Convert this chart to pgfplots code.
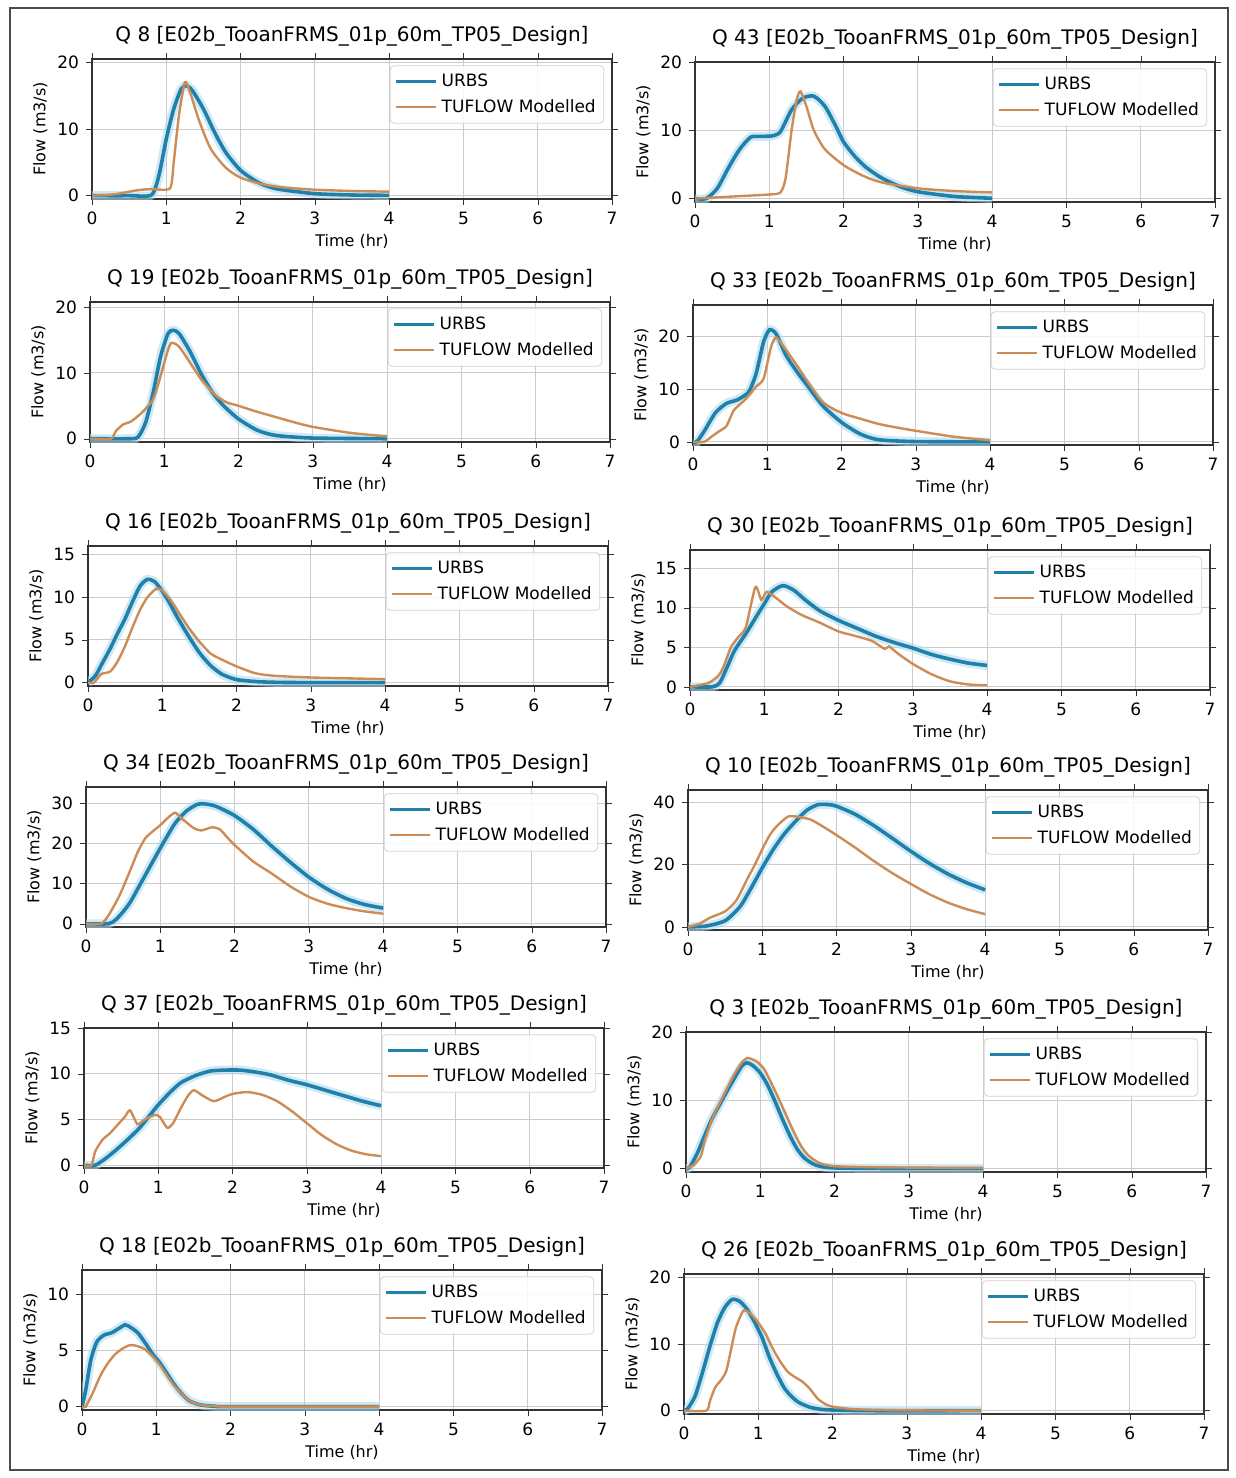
\documentclass[border=0pt]{standalone}
\usepackage{fontspec}
\setmainfont{DejaVu Sans}
\usepackage{pgfplots}
\usepackage{pgfplotstable}
\pgfplotsset{compat=1.18}

\definecolor{urbs}{RGB}{33,128,170}
\definecolor{tuflow}{RGB}{205,140,85}
\definecolor{halo}{RGB}{175,220,240}

\newcommand\ttl[1]{Q #1 [E02b\_TooanFRMS\_01p\_60m\_TP05\_Design]}

\pgfplotsset{
  panel/.style={
    scale only axis, width=260pt, height=70pt, anchor=south west,
    xmin=0, xmax=7, xtick={0,...,7},
    grid=major, major grid style={gray!40, line width=0.5pt},
    axis line style={black!80, line width=0.8pt},
    tick style={black!80}, tick align=outside, major tick length=3pt,
    xlabel={Time (hr)}, ylabel={Flow (m3/s)},
    title style={font=\fontsize{10}{12}\selectfont, yshift=-3pt},
    ticklabel style={font=\fontsize{8.5}{10}\selectfont},
    label style={font=\fontsize{8}{10}\selectfont},
    xlabel style={yshift=2pt}, ylabel style={yshift=-2pt},
    /pgf/number format/assume math mode=true,
    legend cell align=left,
    legend image code/.code={\draw[##1] (0pt,0pt) -- (20pt,0pt);},
    legend style={at={(0.985,0.955)}, anchor=north east, draw=gray!35,
      fill=white, fill opacity=0.85, text opacity=1, rounded corners=2pt,
      font=\fontsize{8.5}{10}\selectfont, inner sep=2pt, row sep=1pt},
  },
  hal/.style={color=halo, line width=4.5pt, opacity=0.6, forget plot, smooth, tension=0.4},
  ur/.style={color=urbs, line width=1.8pt, smooth, tension=0.4},
  tf/.style={color=tuflow, line width=1.2pt, smooth, tension=0.4},
}

% URBS / TUFLOW hydrographs, time (hr) and flow (m3/s)
\pgfplotstableread{
t q
0 0
0.5 0
0.8 0.1
0.9 3
1.0 8.5
1.1 13
1.2 16
1.27 16.5
1.35 15.8
1.5 13
1.65 9.5
1.8 6.5
2.0 3.8
2.25 1.9
2.5 1.0
3.0 0.3
3.5 0.1
4.0 0.05
}\uA
\pgfplotstableread{
t q
0 0
0.3 0.2
0.6 0.8
0.8 1
1.05 1.1
1.1 5
1.17 12
1.25 17
1.32 15.5
1.45 11
1.6 7
1.8 4.2
2.0 2.7
2.3 1.7
2.6 1.2
3.0 0.9
3.5 0.7
4.0 0.6
}\tA
\pgfplotstableread{
t q
0 0
0.15 0
0.3 1.5
0.45 4.5
0.6 7.2
0.75 9
0.9 9.1
1.05 9.2
1.15 9.8
1.3 13
1.45 14.7
1.6 15
1.75 13.5
1.9 10.5
2.0 8.3
2.15 6.2
2.3 4.6
2.5 3.1
2.75 1.8
3.0 1.0
3.5 0.3
4.0 0.05
}\uB
\pgfplotstableread{
t q
0 0
0.5 0.3
1.0 0.6
1.15 0.9
1.22 3
1.3 10
1.37 14.5
1.42 15.7
1.5 13.5
1.6 10
1.75 7.2
2.0 4.9
2.25 3.4
2.5 2.4
3.0 1.5
3.5 1.1
4.0 0.9
}\tB
\pgfplotstableread{
t q
0 0
0.55 0
0.65 0.3
0.75 2.5
0.85 7
0.95 12.5
1.05 16
1.12 16.5
1.2 16
1.35 13.2
1.5 9.8
1.65 7
1.8 5
2.0 3
2.25 1.3
2.5 0.5
3.0 0.1
4.0 0
}\uC
\pgfplotstableread{
t q
0 0
0.28 0
0.35 1.2
0.45 2.2
0.55 2.6
0.7 4
0.85 6
0.95 9.5
1.05 13.5
1.1 14.6
1.2 14
1.35 11.5
1.5 9
1.7 6.5
1.85 5.5
2.0 5
2.25 4.1
2.5 3.3
2.75 2.5
3.0 1.8
3.5 0.9
4.0 0.35
}\tC
\pgfplotstableread{
t q
0 0
0.05 0
0.15 2
0.3 5.5
0.45 7.3
0.6 8
0.75 9.5
0.85 13
0.95 19
1.03 21.3
1.12 20.5
1.25 16.5
1.4 13.3
1.55 10.5
1.75 6.8
2.0 3.7
2.25 1.5
2.5 0.4
3.0 0.05
4.0 0
}\uD
\pgfplotstableread{
t q
0 0
0.15 0
0.25 1
0.35 2
0.45 3
0.55 6
0.7 8
0.85 10.5
0.95 12
1.05 18
1.12 19.8
1.25 17.5
1.4 14.5
1.55 11.3
1.75 7.5
2.0 5.5
2.25 4.4
2.5 3.4
2.75 2.7
3.0 2.1
3.5 1.0
4.0 0.3
}\tD
\pgfplotstableread{
t q
0 0
0.1 0.8
0.2 2.4
0.3 4
0.4 5.8
0.5 7.5
0.6 9.5
0.7 11.3
0.8 12.1
0.9 11.8
1.0 10.7
1.1 9.3
1.2 7.7
1.35 5.5
1.5 3.5
1.65 2
1.8 1
2.0 0.35
2.3 0.1
2.6 0.02
3.0 0
4.0 0
}\uE
\pgfplotstableread{
t q
0 0
0.08 0
0.18 1
0.3 1.3
0.4 2.5
0.5 4.3
0.6 6.5
0.7 8.5
0.8 10
0.92 11
1.0 10.8
1.1 9.8
1.2 8.5
1.35 6.5
1.5 4.8
1.65 3.4
1.8 2.7
2.0 1.9
2.25 1.1
2.5 0.8
3.0 0.6
3.5 0.5
4.0 0.4
}\tE
\pgfplotstableread{
t q
0 0
0.3 0
0.4 0.5
0.5 2.5
0.6 4.6
0.75 6.7
0.9 9
1.0 10.5
1.1 12
1.25 12.8
1.4 12.2
1.55 11
1.75 9.6
2.0 8.4
2.25 7.4
2.5 6.4
2.75 5.6
3.0 4.9
3.25 4.1
3.5 3.5
3.75 3.0
4.0 2.7
}\uF
\pgfplotstableread{
t q
0 0
0.25 0.5
0.38 1.4
0.45 2.5
0.55 5
0.65 6.3
0.75 7.5
0.88 12.6
0.96 11
1.03 12
1.15 11.3
1.3 10.2
1.5 9.1
1.75 8.1
2.0 7.0
2.2 6.5
2.45 5.8
2.62 4.8
2.68 5.1
2.8 4.2
3.0 2.9
3.25 1.6
3.5 0.7
3.75 0.3
4.0 0.2
}\tF
\pgfplotstableread{
t q
0 0
0.3 0
0.4 1
0.5 3
0.6 5.5
0.75 10.5
0.9 15.5
1.0 18.8
1.1 22
1.2 25
1.35 28
1.5 29.7
1.6 29.8
1.75 29.2
2.0 26.9
2.25 23.5
2.5 19.3
2.75 15.3
3.0 11.6
3.25 8.6
3.5 6.3
3.75 4.8
4.0 3.9
}\uG
\pgfplotstableread{
t q
0 0
0.2 0
0.3 2
0.45 7
0.6 13.5
0.7 18
0.8 21.3
0.9 23
1.0 24.5
1.1 26.3
1.2 27.6
1.3 26
1.45 23.8
1.55 23.2
1.7 24
1.8 23.5
1.9 21.5
2.0 19.6
2.25 15.5
2.5 12.5
2.75 9.3
3.0 6.7
3.25 5
3.5 3.9
3.75 3.1
4.0 2.5
}\tG
\pgfplotstableread{
t q
0 0
0.25 0.3
0.5 2
0.7 6.5
0.85 12.5
1.0 19
1.15 25
1.3 30
1.45 34
1.6 37.5
1.75 39.3
1.9 39.3
2.0 38.8
2.25 36.2
2.5 32.6
2.75 28.5
3.0 24.3
3.25 20.4
3.5 17
3.75 14.2
4.0 11.9
}\uH
\pgfplotstableread{
t q
0 0
0.15 1
0.3 3
0.5 5
0.65 8.5
0.8 15.5
0.9 20
1.0 25
1.1 29.5
1.2 32.5
1.35 35.5
1.5 35.3
1.65 34.5
1.8 32.5
2.0 29.5
2.25 25.5
2.5 21.2
2.75 17.3
3.0 13.8
3.25 10.5
3.5 7.8
3.75 5.7
4.0 4.1
}\tH
\pgfplotstableread{
t q
0 0
0.15 0
0.3 0.8
0.45 1.8
0.6 2.9
0.75 4.1
0.9 5.6
1.0 6.6
1.15 7.9
1.3 9
1.5 9.8
1.7 10.3
1.9 10.4
2.1 10.4
2.3 10.2
2.5 9.9
2.75 9.3
3.0 8.8
3.25 8.2
3.5 7.6
3.75 7.0
4.0 6.5
}\uI
\pgfplotstableread{
t q
0 0
0.1 0
0.15 1.5
0.25 2.8
0.35 3.5
0.45 4.4
0.55 5.3
0.62 6
0.72 4.5
0.82 5
0.95 5.5
1.02 5.3
1.12 4.1
1.2 4.6
1.3 6.2
1.4 7.6
1.48 8.2
1.6 7.6
1.75 7
1.9 7.5
2.0 7.8
2.2 8.0
2.4 7.7
2.6 7.0
2.8 5.9
3.0 4.6
3.2 3.3
3.4 2.3
3.6 1.6
3.8 1.2
4.0 1.0
}\tI
\pgfplotstableread{
t q
0 0
0.05 0.2
0.15 2.2
0.25 4.8
0.35 7.3
0.45 9.3
0.55 11.3
0.65 13.2
0.75 15
0.82 15.5
0.9 15.1
1.0 14
1.1 12.2
1.2 9.8
1.3 7.2
1.4 4.8
1.5 2.8
1.6 1.5
1.75 0.5
2.0 0.1
3.0 0
4.0 0
}\uJ
\pgfplotstableread{
t q
0 0
0.1 0.5
0.2 1.8
0.25 4
0.35 7.2
0.45 9.5
0.55 11.7
0.65 13.8
0.75 15.5
0.83 16.2
0.95 15.7
1.05 14.6
1.15 12.5
1.25 10.2
1.35 7.8
1.45 5.4
1.55 3.3
1.65 1.9
1.8 0.8
2.0 0.35
2.5 0.2
3.0 0.15
4.0 0.1
}\tJ
\pgfplotstableread{
t q
0 0
0.05 1.5
0.12 4.2
0.2 5.8
0.3 6.4
0.4 6.6
0.5 7
0.58 7.3
0.65 7.1
0.75 6.6
0.85 5.7
0.95 4.7
1.05 3.9
1.15 2.9
1.25 1.9
1.35 1.1
1.45 0.5
1.6 0.15
1.8 0.03
2.0 0
4.0 0
}\uK
\pgfplotstableread{
t q
0 0
0.05 0
0.15 1.3
0.25 2.8
0.35 3.9
0.45 4.7
0.55 5.2
0.65 5.5
0.75 5.4
0.85 5.1
0.95 4.5
1.05 3.7
1.15 2.7
1.25 1.8
1.35 1.1
1.45 0.5
1.6 0.15
1.8 0.05
2.0 0
4.0 0
}\tK
\pgfplotstableread{
t q
0 0
0.05 0.3
0.15 2.2
0.25 5.8
0.35 9.7
0.45 13.2
0.55 15.5
0.65 16.7
0.75 16.4
0.85 15.2
0.95 13.3
1.05 11
1.15 8
1.25 5.5
1.35 3.4
1.45 2.1
1.55 1.2
1.7 0.5
1.85 0.2
2.0 0.1
2.5 0
4.0 0
}\uL
\pgfplotstableread{
t q
0 0
0.3 0
0.35 1.5
0.42 3.5
0.5 4.6
0.57 6
0.63 9
0.7 12.5
0.8 15
0.9 14.5
1.0 13.2
1.1 11.5
1.2 9.2
1.3 7.3
1.4 5.8
1.5 5
1.6 4.3
1.7 3.2
1.8 1.8
1.9 1.0
2.0 0.6
2.25 0.25
2.5 0.15
3.0 0.05
4.0 0
}\tL

% #1 x, #2 y (pt), #3 number, #4 ymin, #5 ymax, #6 ytick step, #7 URBS, #8 TUFLOW
\newcommand\panel[8]{%
  \begin{axis}[panel, at={(#1,#2)}, title={\ttl{#3}},
      ymin=#4, ymax=#5, ytick distance=#6]
    \addplot[hal] table {#7};
    \addplot[ur] table {#7};
    \addlegendentry{URBS}
    \addplot[tf] table {#8};
    \addlegendentry{TUFLOW Modelled}
  \end{axis}}

\begin{document}
\begin{tikzpicture}
\path[use as bounding box] (0pt,0pt) rectangle (618pt,-739pt);
\draw[black!70, line width=1pt] (5pt,-4pt) rectangle (614pt,-735pt);

\panel{46pt}{-99.5pt}{8}{-0.5}{20.5}{10}{\uA}{\tA}
\panel{347.5pt}{-101pt}{43}{-0.5}{20}{10}{\uB}{\tB}
\panel{45pt}{-221pt}{19}{-0.5}{20.8}{10}{\uC}{\tC}
\panel{346.5pt}{-222.5pt}{33}{-0.6}{26}{10}{\uD}{\tD}
\panel{44pt}{-343pt}{16}{-0.4}{16}{5}{\uE}{\tE}
\panel{345pt}{-345pt}{30}{-0.4}{17.3}{5}{\uF}{\tF}
\panel{43pt}{-463.5pt}{34}{-0.8}{34}{10}{\uG}{\tG}
\panel{344pt}{-465pt}{10}{-1}{44}{20}{\uH}{\tH}
\panel{42pt}{-584pt}{37}{-0.3}{15}{5}{\uI}{\tI}
\panel{343pt}{-586pt}{3}{-0.5}{20}{10}{\uJ}{\tJ}
\panel{41pt}{-705pt}{18}{-0.3}{12.2}{5}{\uK}{\tK}
\panel{342pt}{-707pt}{26}{-0.5}{20.5}{10}{\uL}{\tL}

\end{tikzpicture}
\end{document}
